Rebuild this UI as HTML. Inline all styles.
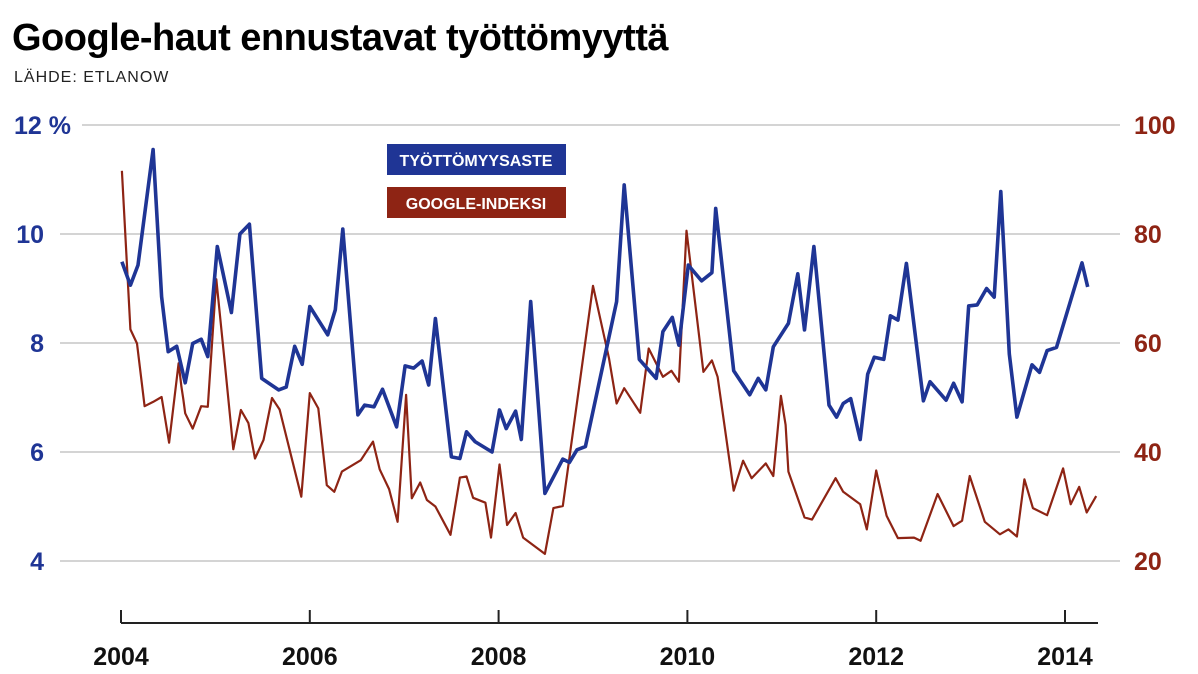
<!DOCTYPE html>
<html><head><meta charset="utf-8"><style>
body{margin:0;background:#fff;}
svg{display:block;font-family:"Liberation Sans","DejaVu Sans",sans-serif;}
</style></head><body>
<svg width="1198" height="674" viewBox="0 0 1198 674">
<text x="12" y="50" font-size="38" font-weight="900" fill="#000" style="letter-spacing:-0.5px">Google-haut ennustavat työttömyyttä</text>
<text x="14" y="82" font-size="16" fill="#222" style="letter-spacing:1px">LÄHDE: ETLANOW</text>
<g id="grid"></g>
<g id="ylab"></g>
<g id="rlab"></g>
<g id="xaxis"></g>
<path id="redline" fill="none" stroke="#8e2414" stroke-width="2.2" stroke-linejoin="round"/>
<path id="blueline" fill="none" stroke="#1f3595" stroke-width="3.6" stroke-linejoin="round"/>
<g>
<rect x="387" y="144" width="179" height="31" fill="#1f3595"/>
<text x="476" y="166" font-size="16" font-weight="bold" fill="#fff" text-anchor="middle">TYÖTTÖMYYSASTE</text>
<rect x="387" y="187" width="179" height="31" fill="#8e2414"/>
<text x="476" y="209" font-size="16" font-weight="bold" fill="#fff" text-anchor="middle">GOOGLE-INDEKSI</text>
</g>
</svg>
<script>
const leftTicks=[4,6,8,10,12];
const rightTicks=[20,40,60,80,100];
const yearTicks=[2004,2006,2008,2010,2012,2014];
const blueYears=[2004.01,2004.10,2004.18,2004.34,2004.43,2004.50,2004.59,2004.68,2004.76,2004.85,2004.92,2005.02,2005.17,2005.26,2005.36,2005.49,2005.67,2005.75,2005.84,2005.92,2006.00,2006.19,2006.27,2006.35,2006.51,2006.58,2006.68,2006.77,2006.92,2007.01,2007.10,2007.19,2007.26,2007.33,2007.50,2007.59,2007.66,2007.75,2007.93,2008.01,2008.08,2008.18,2008.24,2008.34,2008.49,2008.68,2008.75,2008.83,2008.92,2009.25,2009.33,2009.49,2009.67,2009.74,2009.84,2009.91,2010.01,2010.15,2010.26,2010.30,2010.49,2010.66,2010.75,2010.83,2010.91,2011.07,2011.17,2011.24,2011.34,2011.50,2011.58,2011.65,2011.73,2011.83,2011.91,2011.98,2012.08,2012.15,2012.23,2012.32,2012.50,2012.57,2012.74,2012.82,2012.91,2012.98,2013.07,2013.17,2013.25,2013.32,2013.41,2013.49,2013.65,2013.73,2013.81,2013.91,2014.18,2014.24];
const blueValues=[9.49,9.06,9.43,11.55,8.85,7.84,7.94,7.27,7.99,8.07,7.75,9.77,8.56,10.0,10.18,7.35,7.14,7.19,7.94,7.61,8.67,8.15,8.61,10.09,6.68,6.86,6.83,7.15,6.46,7.58,7.54,7.67,7.23,8.45,5.91,5.88,6.37,6.19,6.0,6.77,6.43,6.75,6.23,8.76,5.24,5.87,5.81,6.04,6.10,8.76,10.9,7.70,7.35,8.21,8.47,7.96,9.43,9.14,9.29,10.47,7.49,7.05,7.35,7.14,7.93,8.36,9.27,8.24,9.77,6.86,6.64,6.89,6.98,6.23,7.43,7.74,7.70,8.50,8.42,9.46,6.94,7.29,6.95,7.26,6.92,8.68,8.70,9.0,8.84,10.78,7.80,6.64,7.60,7.46,7.86,7.92,9.47,9.03];
const redYears=[2004.01,2004.10,2004.17,2004.25,2004.34,2004.43,2004.51,2004.61,2004.64,2004.66,2004.68,2004.76,2004.85,2004.92,2005.01,2005.10,2005.19,2005.27,2005.35,2005.42,2005.51,2005.60,2005.68,2005.91,2006.00,2006.09,2006.18,2006.26,2006.34,2006.54,2006.67,2006.74,2006.84,2006.93,2007.02,2007.08,2007.17,2007.24,2007.33,2007.49,2007.59,2007.66,2007.73,2007.86,2007.92,2008.01,2008.09,2008.18,2008.26,2008.49,2008.58,2008.68,2009.00,2009.17,2009.25,2009.33,2009.50,2009.59,2009.74,2009.83,2009.91,2009.99,2010.17,2010.26,2010.32,2010.49,2010.59,2010.68,2010.83,2010.91,2010.99,2011.04,2011.07,2011.24,2011.32,2011.57,2011.65,2011.83,2011.90,2012.00,2012.11,2012.23,2012.40,2012.47,2012.65,2012.82,2012.91,2012.99,2013.15,2013.31,2013.40,2013.49,2013.57,2013.66,2013.81,2013.98,2014.06,2014.15,2014.23,2014.33];
const redValues=[91.6,62.5,59.9,48.4,49.2,50.1,41.7,56.3,52.0,49.7,47.1,44.3,48.4,48.3,71.7,56.3,40.5,47.7,45.3,38.8,42.2,49.9,47.8,31.8,50.8,48.0,33.9,32.7,36.4,38.5,41.9,36.8,33.2,27.2,50.5,31.5,34.4,31.2,30.0,24.8,35.3,35.5,31.6,30.7,24.3,37.7,26.6,28.8,24.3,21.3,29.7,30.1,70.5,57.2,48.9,51.7,47.2,59.0,53.8,54.9,52.9,80.6,54.7,56.8,53.8,32.9,38.4,35.2,37.9,35.6,50.3,45.0,36.4,28.0,27.6,35.2,32.7,30.4,25.8,36.6,28.3,24.2,24.3,23.7,32.3,26.4,27.4,35.6,27.2,24.9,25.8,24.5,35.0,29.7,28.4,37.0,30.4,33.6,28.9,31.9];
const NS='http://www.w3.org/2000/svg';
const x=yr=>121+(yr-2004)*94.4;
const yL=v=>125+(12-v)*54.5;
const yR=v=>125+(100-v)*5.45;
function mk(tag,attrs,parent,txt){const e=document.createElementNS(NS,tag);for(const k in attrs)e.setAttribute(k,attrs[k]);if(txt!==undefined)e.textContent=txt;parent.appendChild(e);return e;}
const grid=document.getElementById('grid'),yl=document.getElementById('ylab'),rl=document.getElementById('rlab'),xa=document.getElementById('xaxis');
leftTicks.forEach(v=>{
  const ln=mk('line',{x1:v===12?82:60,x2:1120,y1:yL(v),y2:yL(v),stroke:'#d4d4d4','stroke-width':2},grid);
  
  
  const t=mk('text',{x:v===12?14:44,y:yL(v)+9,'font-size':25,'font-weight':'bold',fill:'#1f3595','text-anchor':v===12?'start':'end'},yl,v===12?'12 %':String(v));
  
  
});
rightTicks.forEach(v=>{
  const t=mk('text',{x:1134,y:yR(v)+9,'font-size':25,'font-weight':'bold',fill:'#8e2414'},rl,String(v));
  
  
});
const base=mk('line',{x1:x(2004),x2:1098,y1:623,y2:623,stroke:'#222','stroke-width':2},xa);


yearTicks.forEach(yr=>{
  const tk=mk('line',{x1:x(yr),x2:x(yr),y1:610,y2:623,stroke:'#222','stroke-width':2},xa);
  
  
  const t=mk('text',{x:x(yr),y:665,'font-size':25,'font-weight':'bold',fill:'#111','text-anchor':'middle'},xa,String(yr));
  
  
});
document.getElementById('blueline').setAttribute('d',blueYears.map((yr,i)=>(i?'L':'M')+x(yr).toFixed(1)+','+yL(blueValues[i]).toFixed(1)).join(''));
document.getElementById('redline').setAttribute('d',redYears.map((yr,i)=>(i?'L':'M')+x(yr).toFixed(1)+','+yR(redValues[i]).toFixed(1)).join(''));
</script>
</body></html>
